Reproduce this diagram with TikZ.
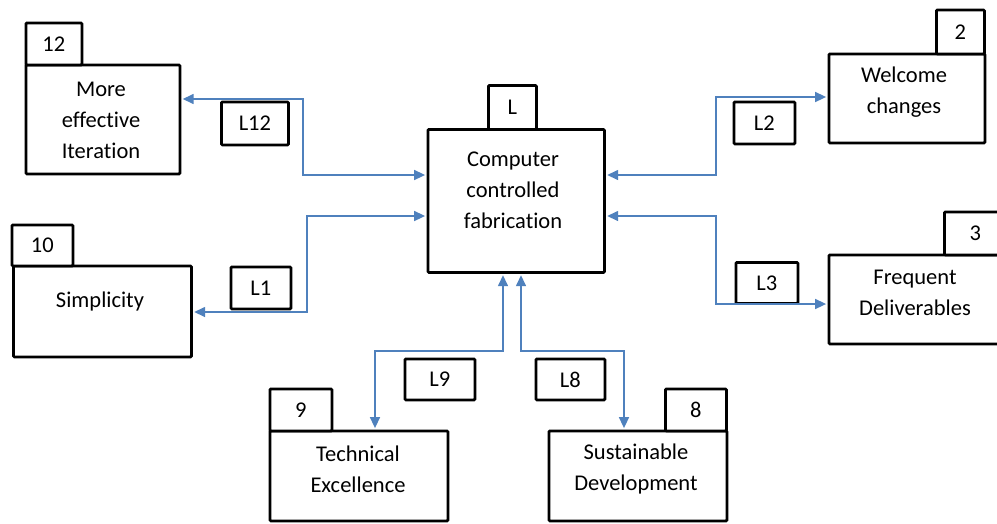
\documentclass[tikz,border=0pt]{standalone}
\usepackage{fontspec}
\setmainfont[Ligatures=NoCommon]{Carlito}
\usetikzlibrary{arrows.meta}
\definecolor{linkblue}{RGB}{79,129,189}
\tikzset{
  boxshape/.style={draw=black, line width=2.8pt, rounded corners=1pt, inner sep=0pt, anchor=north west, fill=white},
  txt/.style={align=center, inner sep=0pt, font=\fontsize{22.5}{31}\selectfont},
  conn/.style={draw=linkblue, line width=1.5pt, {Triangle[length=11pt,width=10pt]}-{Triangle[length=11pt,width=10pt]}, shorten >=1.4pt, shorten <=1.4pt},
}
\begin{document}
\begin{tikzpicture}[x=1pt,y=-1pt]
\useasboundingbox (0,0) rectangle (997,523);
\clip (0,0) rectangle (997,523);
\fill[white] (0,0) rectangle (997,523);

% main boxes
\node[boxshape, minimum width=154pt, minimum height=109pt] (b12) at (24.5,63.5) {};
\node[boxshape, minimum width=178pt, minimum height=91pt] (b10) at (12,264.5) {};
\node[boxshape, minimum width=176.5pt, minimum height=143pt] (c) at (426.5,128) {};
\node[boxshape, minimum width=156pt, minimum height=89pt] (b2) at (827.5,52.5) {};
\node[boxshape, minimum width=185pt, minimum height=89pt] (b3) at (827.5,253.5) {};
\node[boxshape, minimum width=178pt, minimum height=90pt] (b9) at (268.5,429.5) {};
\node[boxshape, minimum width=178pt, minimum height=90pt] (b8) at (547.5,429.5) {};

% tabs
\node[boxshape, minimum width=56pt, minimum height=42pt, txt] (t12) at (24.5,21.5) {12};
\node[boxshape, minimum width=61pt, minimum height=41pt, txt] (t10) at (10.5,223.5) {10};
\node[boxshape, minimum width=48pt, minimum height=44pt, txt] (tL) at (487,84) {L};
\node[boxshape, minimum width=48pt, minimum height=44pt, txt] (t2) at (935,8.5) {2};
\node[boxshape, minimum width=62pt, minimum height=43pt, txt] (t3) at (943,210.5) {3};
\node[boxshape, minimum width=62pt, minimum height=42pt, txt] (t9) at (268.5,387.5) {9};
\node[boxshape, minimum width=61pt, minimum height=42pt, txt] (t8) at (664,387.5) {8};

% box texts
\node[txt] (x12) at (101,120) {More\\effective\\Iteration};
\node[txt] (x10) at (100,301) {Simplicity};
\node[txt] (xc) at (513,190) {Computer\\controlled\\fabrication};
\node[txt] (x2) at (904,92) {Welcome\\changes};
\node[txt] (x3) at (915,293) {Frequent\\Deliverables};
\node[txt] (x9) at (358,469) {Technical\\Excellence};
\node[txt] (x8) at (636,469) {Sustainable\\Development};

% link labels
\node[boxshape, minimum width=67pt, minimum height=43pt, txt] (L12) at (220,100.5) {L12};
\node[boxshape, minimum width=60pt, minimum height=42pt, txt] (L1) at (229.5,265.5) {L1};
\node[boxshape, minimum width=61pt, minimum height=42pt, txt] (L2) at (732.5,100.5) {L2};
\node[boxshape, minimum width=62pt, minimum height=41pt, txt] (L3) at (734.5,261) {L3};
\node[boxshape, minimum width=70pt, minimum height=41pt, txt] (L9) at (403.5,357.5) {L9};
\node[boxshape, minimum width=69pt, minimum height=41pt, txt] (L8) at (534.5,357.5) {L8};

% connectors
\draw[conn] (c.west |- 0,175) -- (303,175) -- (303,99) -- (b12.east |- 0,99);
\draw[conn] (c.west |- 0,216) -- (307,216) -- (307,312) -- (b10.east |- 0,312);
\draw[conn] (c.east |- 0,175) -- (716,175) -- (716,97) -- (b2.west |- 0,97);
\draw[conn] (c.east |- 0,216) -- (716,216) -- (716,304) -- (b3.west |- 0,304);
\draw[conn] (c.south -| 503,0) -- (503,351) -- (375,351) -- (b9.north -| 375,0);
\draw[conn] (c.south -| 521,0) -- (521,351) -- (624,351) -- (b8.north -| 624,0);
\end{tikzpicture}
\end{document}
